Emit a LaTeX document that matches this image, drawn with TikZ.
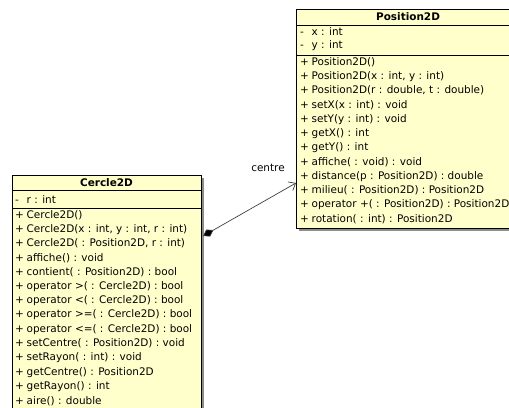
\documentclass[tikz,border=0pt]{standalone}
\usepackage{fontspec}
\setmainfont{DejaVu Sans}
\usetikzlibrary{arrows.meta,shadows}
\definecolor{classfill}{RGB}{255,255,204}
\definecolor{shadowgray}{RGB}{140,140,140}
\newcommand{\mbr}[2]{\makebox[11.5bp][l]{#1}#2}
\begin{document}
\begin{tikzpicture}[x=1bp,y=-1bp,
  member/.style={anchor=west,inner sep=0pt,font=\fontsize{10.5}{12}\selectfont},
  classtitle/.style={anchor=center,inner sep=0pt,font=\bfseries\fontsize{10.5}{12}\selectfont},
  classbox/.style={draw=black,line width=0.8bp,fill=classfill,anchor=north west,inner sep=0pt,
    drop shadow={shadow xshift=3bp,shadow yshift=-3bp,opacity=1,fill=shadowgray}},
  sep/.style={draw=black,line width=0.7bp},
  assoc/.style={draw=black!75,line width=0.7bp,
    {Diamond[length=12bp,width=8bp,fill=black]}-{Straight Barb[length=6bp,width=10bp]}}]
\useasboundingbox (0,0) rectangle (509,407);
\clip (0,0) rectangle (509,407);

% class Position2D
\node[classbox,minimum width=224bp,minimum height=219bp] (pos) at (296,9) {};
\node[classtitle] (posname) at (408,17) {Position2D};
\draw[sep] (296,25) -- (520,25);
\draw[sep] (296,55) -- (520,55);
\node[member] (pa1) at (300,32) {\mbr{-}{x : int}};
\node[member] (pa2) at (300,46) {\mbr{-}{y : int}};
\foreach \txt [count=\i from 0] in {
  {Position2D()},
  {Position2D(x : int, y : int)},
  {Position2D(r : double, t : double)},
  {setX(x : int) : void},
  {setY(y : int) : void},
  {getX() : int},
  {getY() : int},
  {affiche( : void) : void},
  {distance(p : Position2D) : double},
  {milieu( : Position2D) : Position2D},
  {operator +( : Position2D) : Position2D},
  {rotation( : int) : Position2D}}
  \node[member] (pm\i) at (300,62+14.3*\i) {\mbr{+}{\txt}};

% class Cercle2D
\node[classbox,minimum width=189bp,minimum height=245bp] (cer) at (12,175) {};
\node[classtitle] (cername) at (106.5,183) {Cercle2D};
\draw[sep] (12,190) -- (201,190);
\draw[sep] (12,208) -- (201,208);
\node[member] (ca1) at (15,200) {\mbr{-}{r : int}};
\foreach \txt [count=\i from 0] in {
  {Cercle2D()},
  {Cercle2D(x : int, y : int, r : int)},
  {Cercle2D( : Position2D, r : int)},
  {affiche() : void},
  {contient( : Position2D) : bool},
  {operator >( : Cercle2D) : bool},
  {operator <( : Cercle2D) : bool},
  {operator >=( : Cercle2D) : bool},
  {operator <=( : Cercle2D) : bool},
  {setCentre( : Position2D) : void},
  {setRayon( : int) : void},
  {getCentre() : Position2D},
  {getRayon() : int},
  {aire() : double}}
  \node[member] (cm\i) at (15,215+14.3*\i) {\mbr{+}{\txt}};

% composition: Cercle2D owns a Position2D "centre"
\coordinate (cerlink) at (203,236);
\coordinate (poslink) at (296,183);
\draw[assoc] (cerlink) -- (poslink);
\node[member,anchor=center] (centrelbl) at (268,168) {centre};
\end{tikzpicture}
\end{document}
